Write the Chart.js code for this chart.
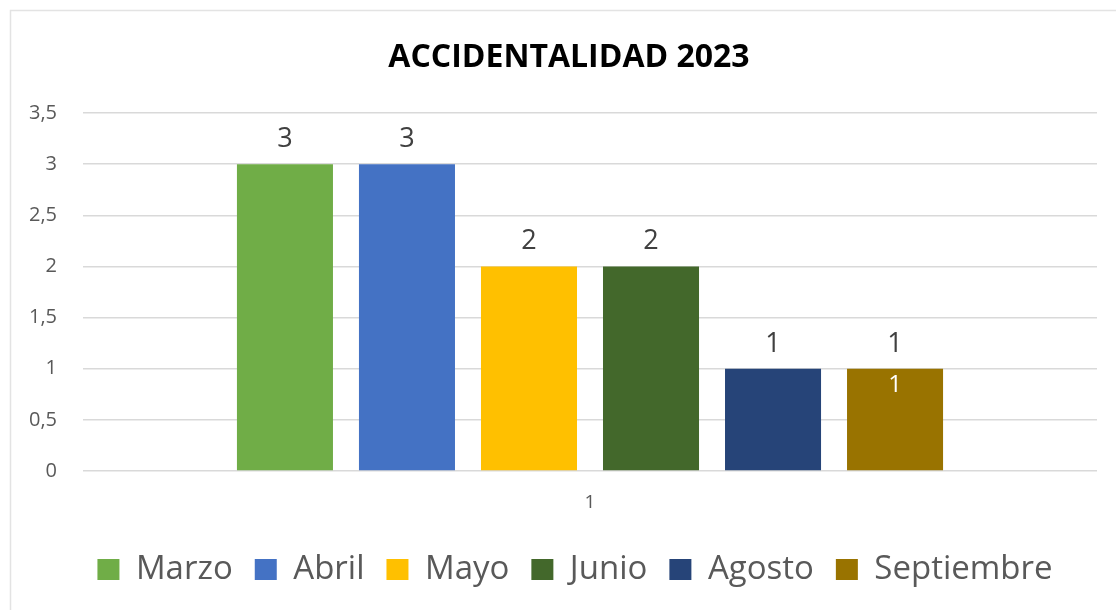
<!DOCTYPE html>
<html>
<head>
<meta charset="utf-8">
<script src="https://cdn.jsdelivr.net/npm/chart.js@4"></script>
<style>
html,body{margin:0;padding:0;background:#fff;}
#wrap{width:1116px;height:610px;position:relative;}
</style>
</head>
<body>
<div id="wrap"><canvas id="c" width="1116" height="610"></canvas></div>
<script>
const title = 'ACCIDENTALIDAD 2023';
const categories = ['1'];
const seriesNames = ['Marzo', 'Abril', 'Mayo', 'Junio', 'Agosto', 'Septiembre'];
const seriesValues = [3, 3, 2, 2, 1, 1];
const seriesColors = ['#70ad47', '#4472c4', '#ffc000', '#43682b', '#264478', '#997300'];
const yTicks = [0, 0.5, 1, 1.5, 2, 2.5, 3, 3.5];

const FONT = '"Open Sans", "Liberation Sans", sans-serif';

const frameAndTitle = {
  id: 'frameAndTitle',
  afterLayout(chart) {
    if (chart.legend) {
      chart.legend.left += 21.5;
      chart.legend.right += 21.5;
    }
  },
  beforeDraw(chart) {
    const ctx = chart.ctx;
    ctx.save();
    ctx.strokeStyle = '#e3e3e3';
    ctx.lineWidth = 1.5;
    ctx.strokeRect(10.5, 10.5, 1200, 700);
    ctx.fillStyle = '#000000';
    ctx.font = 'bold 32px ' + FONT;
    ctx.textAlign = 'center';
    ctx.textBaseline = 'middle';
    ctx.fillText(title, 569, 58);
    ctx.restore();
  }
};

const valueLabels = {
  id: 'valueLabels',
  afterDatasetsDraw(chart) {
    const ctx = chart.ctx;
    ctx.save();
    ctx.textAlign = 'center';
    chart.data.datasets.forEach((ds, i) => {
      const meta = chart.getDatasetMeta(i);
      meta.data.forEach((bar, j) => {
        const v = ds.data[j];
        ctx.font = '27px ' + FONT;
        ctx.fillStyle = '#404040';
        ctx.textBaseline = 'alphabetic';
        ctx.fillText(String(v), bar.x, bar.y - 17);
        if (i === chart.data.datasets.length - 1) {
          ctx.font = '24px ' + FONT;
          ctx.fillStyle = '#ffffff';
          ctx.fillText(String(v), bar.x, bar.y + 23);
        }
      });
    });
    ctx.restore();
  }
};

new Chart(document.getElementById('c'), {
  type: 'bar',
  data: {
    labels: categories,
    datasets: seriesNames.map((name, i) => ({
      label: name,
      data: [seriesValues[i]],
      backgroundColor: seriesColors[i],
      borderWidth: 0,
      categoryPercentage: 0.722,
      barPercentage: 0.787
    }))
  },
  options: {
    responsive: false,
    animation: false,
    devicePixelRatio: 1,
    layout: { padding: { left: 10, right: 19, top: 113, bottom: 14 } },
    plugins: {
      title: { display: false },
      legend: {
        position: 'bottom',
        labels: {
          color: '#595959',
          font: { family: FONT, size: 33 },
          boxWidth: 22,
          boxHeight: 21,
          padding: 22
        }
      },
      tooltip: { enabled: false }
    },
    scales: {
      x: {
        grid: { display: false },
        border: { display: false },
        afterFit(scale) { scale.height = 60; },
        ticks: {
          color: '#595959',
          font: { family: FONT, size: 19 },
          padding: 12
        }
      },
      y: {
        min: 0,
        max: 3.5,
        afterBuildTicks(scale) { scale.ticks = yTicks.map(v => ({ value: v })); },
        afterFit(scale) { scale.width = 73; },
        grid: { color: '#d9d9d9', lineWidth: 1.5, drawTicks: false },
        border: { display: false },
        ticks: {
          color: '#595959',
          font: { family: FONT, size: 20 },
          padding: 26,
          callback: v => String(v).replace('.', ',')
        }
      }
    }
  },
  plugins: [frameAndTitle, valueLabels]
});
</script>
</body>
</html>
